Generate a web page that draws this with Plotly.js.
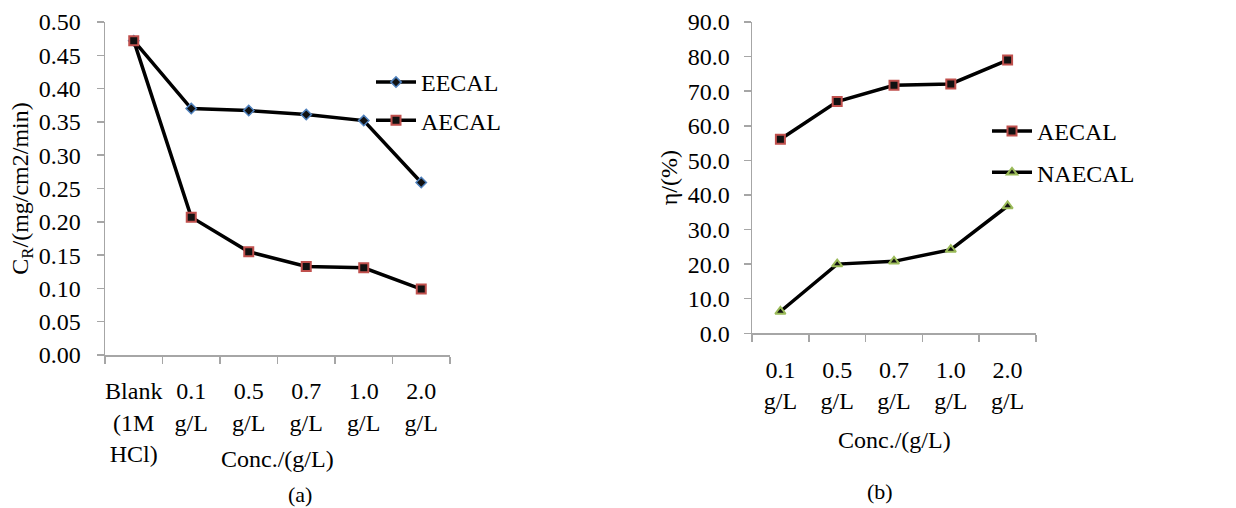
<!DOCTYPE html>
<html>
<head>
<meta charset="utf-8">
<script src="https://cdn.plot.ly/plotly-3.0.1.min.js"></script>
<style>html,body{margin:0;padding:0;background:#fff;}#chart{width:1236px;height:508px;}</style>
</head>
<body>
<div id="chart"></div>
<script>
// Panel (a): corrosion rate
const categoriesA = ['Blank<br>(1M<br>HCl)', '0.1<br>g/L', '0.5<br>g/L', '0.7<br>g/L', '1.0<br>g/L', '2.0<br>g/L'];
const eecalRate = [0.472, 0.370, 0.367, 0.361, 0.352, 0.259];
const aecalRate = [0.472, 0.207, 0.155, 0.133, 0.131, 0.099];
// Panel (b): inhibition efficiency
const categoriesB = ['0.1<br>g/L', '0.5<br>g/L', '0.7<br>g/L', '1.0<br>g/L', '2.0<br>g/L'];
const aecalEff = [56.1, 67.0, 71.7, 72.1, 79.0];
const naecalEff = [6.3, 20.0, 20.8, 24.2, 36.8];

const FONT = 'Liberation Serif, Times New Roman, serif';
const FS = 24;
const AXC = '#a6a6a6';

const lineStyle = {color: '#000', width: 3.5};
const traces = [
  {x: categoriesA, y: eecalRate, name: 'EECAL', mode: 'lines+markers', xaxis: 'x', yaxis: 'y',
   line: lineStyle, legend: 'legend', legendgroup: 'a1',
   marker: {symbol: 'diamond', size: 8, color: '#111', line: {color: '#4f81bd', width: 1.5}}},
  {x: categoriesA, y: aecalRate, name: 'AECAL', mode: 'lines+markers', xaxis: 'x', yaxis: 'y',
   line: lineStyle, legend: 'legend', legendgroup: 'a2',
   marker: {symbol: 'square', size: 9, color: '#111', line: {color: '#c0504d', width: 2}}},
  {x: categoriesB, y: aecalEff, name: 'AECAL', mode: 'lines+markers', xaxis: 'x2', yaxis: 'y2',
   line: lineStyle, legend: 'legend2', legendgroup: 'b1',
   marker: {symbol: 'square', size: 9, color: '#111', line: {color: '#c0504d', width: 2}}},
  {x: categoriesB, y: naecalEff, name: 'NAECAL', mode: 'lines+markers', xaxis: 'x2', yaxis: 'y2',
   line: lineStyle, legend: 'legend2', legendgroup: 'b2',
   marker: {symbol: 'triangle-up', size: 9, color: '#111', line: {color: '#9bbb59', width: 2}}}
];

const W = 1236, H = 508;
const px = v => v / W, py = v => 1 - v / H;

const xCommon = {
  type: 'category', showline: true, linecolor: AXC, linewidth: 1.5, tickangle: 0,
  ticks: 'outside', tickcolor: AXC, ticklen: 7, tickwidth: 1.5, tickson: 'boundaries',
  showgrid: false, zeroline: false, fixedrange: true, ticklabelstandoff: 14,
  tickfont: {family: FONT, size: FS, color: '#000'}
};
const yCommon = {
  showline: true, linecolor: AXC, linewidth: 1.5,
  ticks: 'outside', tickcolor: AXC, ticklen: 7, tickwidth: 1.5,
  showgrid: false, zeroline: false, fixedrange: true,
  tickfont: {family: FONT, size: FS, color: '#000'}
};

const layout = {
  width: W, height: H,
  margin: {l: 0, r: 0, t: 0, b: 0},
  paper_bgcolor: '#fff', plot_bgcolor: 'rgba(0,0,0,0)',
  font: {family: FONT, size: FS, color: '#000'},
  xaxis: Object.assign({}, xCommon, {domain: [px(105), px(450)], range: [-0.5, 5.5], anchor: 'y'}),
  yaxis: Object.assign({}, yCommon, {domain: [py(355), py(22)], range: [0, 0.5], dtick: 0.05, tickformat: '.2f', anchor: 'x',
    ticklabelstandoff: 11,
    title: {text: 'C<sub>R</sub>/(mg/cm2/min)', standoff: 3, font: {family: FONT, size: FS}}}),
  xaxis2: Object.assign({}, xCommon, {domain: [px(752), px(1036)], range: [-0.5, 4.5], anchor: 'y2'}),
  yaxis2: Object.assign({}, yCommon, {domain: [py(333.3), py(22)], range: [0, 90], dtick: 10, tickformat: '.1f', anchor: 'x2',
    ticklabelstandoff: 9,
    title: {text: 'η/(%)', standoff: 3, font: {family: FONT, size: FS}}}),
  legend: {x: px(371), y: py(60), xanchor: 'left', yanchor: 'top', bgcolor: 'rgba(0,0,0,0)',
    traceorder: 'grouped', tracegroupgap: 4, font: {family: FONT, size: FS}, itemwidth: 40},
  legend2: {x: px(987), y: py(109), xanchor: 'left', yanchor: 'top', bgcolor: 'rgba(0,0,0,0)',
    traceorder: 'grouped', tracegroupgap: 7, font: {family: FONT, size: FS}, itemwidth: 40},
  showlegend: true,
  annotations: [
    {text: 'Conc./(g/L)', x: px(277.5), y: py(459), xref: 'paper', yref: 'paper', xanchor: 'center', yanchor: 'middle', showarrow: false, font: {family: FONT, size: FS}},
    {text: 'Conc./(g/L)', x: px(894), y: py(440), xref: 'paper', yref: 'paper', xanchor: 'center', yanchor: 'middle', showarrow: false, font: {family: FONT, size: FS}},
    {text: '(a)', x: px(300), y: py(494), xref: 'paper', yref: 'paper', xanchor: 'center', yanchor: 'middle', showarrow: false, font: {family: FONT, size: 22}},
    {text: '(b)', x: px(880), y: py(491), xref: 'paper', yref: 'paper', xanchor: 'center', yanchor: 'middle', showarrow: false, font: {family: FONT, size: 22}}
  ]
};

Plotly.newPlot('chart', traces, layout, {displayModeBar: false, staticPlot: true});
</script>
</body>
</html>
